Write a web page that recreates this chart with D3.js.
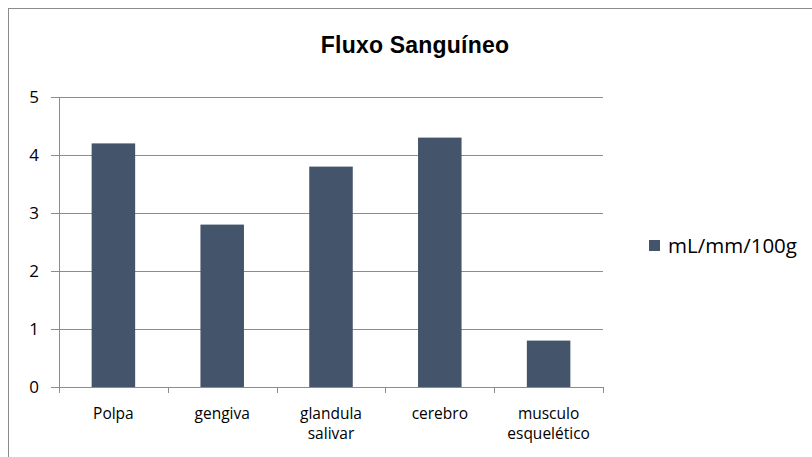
<!DOCTYPE html>
<html>
<head>
<meta charset="utf-8">
<script src="https://cdn.jsdelivr.net/npm/d3@7"></script>
<style>
  html, body { margin: 0; padding: 0; background: #fff; }
  svg { display: block; }
  text { fill: #000; }
</style>
</head>
<body>
<svg id="chart" width="812" height="457"></svg>
<script>
// Blood flow by tissue (mL/min/100g)
const categories = [["Polpa"], ["gengiva"], ["glandula", "salivar"], ["cerebro"], ["musculo", "esquelético"]];
const values = [4.2, 2.8, 3.8, 4.3, 0.8];
const yTicks = [0, 1, 2, 3, 4, 5];
const title = "Fluxo Sanguíneo";
const seriesName = "mL/mm/100g";

const barColor = "#44546a";
const gridColor = "#8c8c8c";
const labelFont = "'Open Sans', 'Liberation Sans', sans-serif";
const titleFont = "'Liberation Sans', Arial, sans-serif";

const svg = d3.select("#chart");

// outer chart frame
svg.append("rect")
  .attr("x", 8.5).attr("y", 8.5)
  .attr("width", 820).attr("height", 470)
  .attr("fill", "none").attr("stroke", gridColor).attr("stroke-width", 1);

const plot = { left: 59, right: 603, top: 97, bottom: 387 };

const keys = categories.map(c => c.join(" "));
const x = d3.scaleBand().domain(keys).range([plot.left, plot.right]).paddingInner(0.6).paddingOuter(0.3);
const xBoundary = d3.scaleBand().domain(keys).range([plot.left, plot.right]).padding(0);
const y = d3.scaleLinear().domain([0, 5]).range([plot.bottom, plot.top]);

// horizontal gridlines
svg.append("g")
  .selectAll("line").data(yTicks).join("line")
  .attr("x1", plot.left - 8).attr("x2", plot.right)
  .attr("y1", d => Math.round(y(d)) + 0.5).attr("y2", d => Math.round(y(d)) + 0.5)
  .attr("stroke", gridColor).attr("stroke-width", 1);

// vertical axis line
svg.append("line")
  .attr("x1", plot.left + 0.5).attr("x2", plot.left + 0.5)
  .attr("y1", plot.top).attr("y2", plot.bottom)
  .attr("stroke", gridColor);

// y tick labels
svg.append("g")
  .selectAll("text").data(yTicks).join("text")
  .attr("x", 39).attr("y", d => y(d))
  .attr("dy", "0.36em")
  .attr("text-anchor", "end")
  .attr("font-family", labelFont)
  .attr("font-size", 17)
  .text(d => d);

// category boundary ticks on the x axis
const bounds = keys.map(k => xBoundary(k)).concat([plot.right]);
svg.append("g")
  .selectAll("line").data(bounds).join("line")
  .attr("x1", d => Math.round(d) + 0.5).attr("x2", d => Math.round(d) + 0.5)
  .attr("y1", plot.bottom).attr("y2", plot.bottom + 6)
  .attr("stroke", gridColor);

// bars
svg.append("g")
  .selectAll("rect").data(values).join("rect")
  .attr("x", (d, i) => x(keys[i]))
  .attr("width", x.bandwidth())
  .attr("y", d => y(d))
  .attr("height", d => y(0) - y(d))
  .attr("fill", barColor);

// x category labels
const xl = svg.append("g")
  .selectAll("text").data(categories).join("text")
  .attr("x", (d, i) => x(keys[i]) + x.bandwidth() / 2)
  .attr("y", 419)
  .attr("text-anchor", "middle")
  .attr("font-family", labelFont)
  .attr("font-size", 15.5);
xl.selectAll("tspan").data(d => d).join("tspan")
  .attr("x", function () { return d3.select(this.parentNode).attr("x"); })
  .attr("dy", (d, i) => i === 0 ? 0 : 20)
  .text(d => d);

// title
svg.append("text")
  .attr("x", 415).attr("y", 53)
  .attr("text-anchor", "middle")
  .attr("font-family", titleFont)
  .attr("font-weight", "bold")
  .attr("font-size", 23)
  .attr("letter-spacing", 0.2)
  .text(title);

// legend
const lg = svg.append("g").attr("transform", "translate(649,240)");
lg.append("rect").attr("width", 11).attr("height", 11).attr("fill", barColor);
lg.append("text")
  .attr("x", 19).attr("y", 5.5).attr("dy", "0.36em")
  .attr("font-family", labelFont)
  .attr("font-size", 20.5)
  .text(seriesName);
</script>
</body>
</html>
